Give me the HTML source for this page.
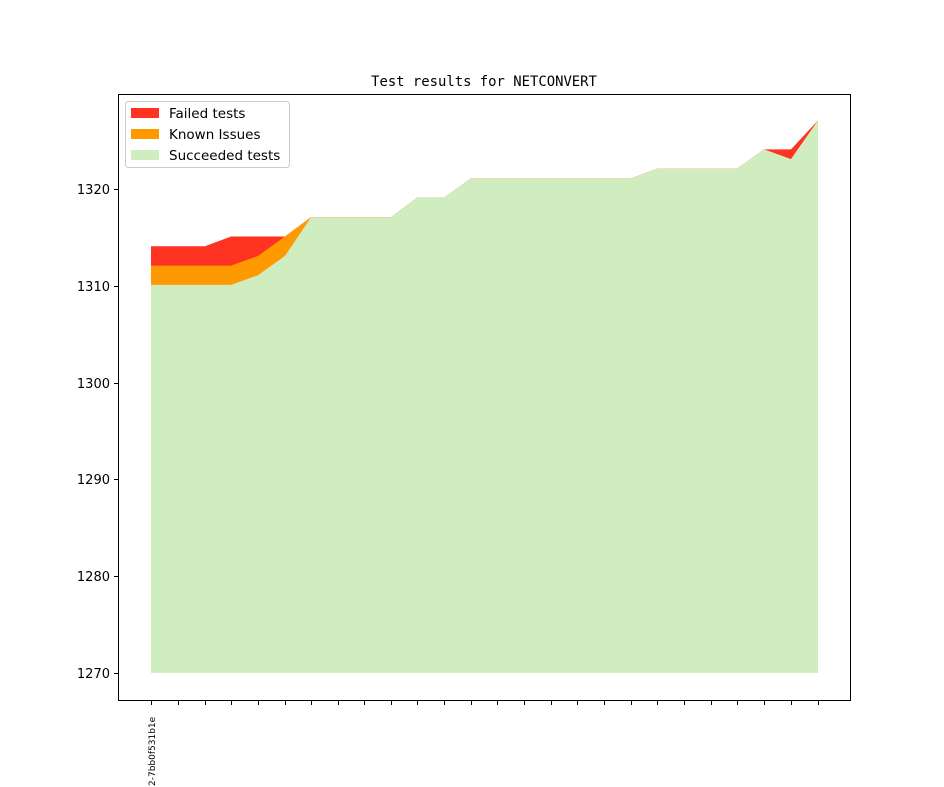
<!DOCTYPE html>
<html><head><meta charset="utf-8"><style>body{margin:0;background:#fff}svg{display:block}</style></head><body>
<svg width="944" height="787" viewBox="0 0 944 787" xmlns="http://www.w3.org/2000/svg" font-family="'DejaVu Sans','Liberation Sans',sans-serif">
<rect width="944" height="787" fill="#fff"/>
<polygon fill="#ff3322" points="151,246.2 178,246.2 205,246.2 231,236.5 258,236.5 285,236.5 311,217.2 338,217.2 364,217.2 391,217.2 417,197.8 444,197.8 471,178.4 497,178.4 524,178.4 551,178.4 577,178.4 604,178.4 631,178.4 657,168.7 684,168.7 711,168.7 737,168.7 764,149.4 791,149.4 818,120.4 818,673 151,673"/>
<polygon fill="#ff9900" points="151,265.6 178,265.6 205,265.6 231,265.6 258,255.9 285,236.5 311,217.2 338,217.2 364,217.2 391,217.2 417,197.8 444,197.8 471,178.4 497,178.4 524,178.4 551,178.4 577,178.4 604,178.4 631,178.4 657,168.7 684,168.7 711,168.7 737,168.7 764,149.4 791,159.1 818,120.4 818,673 151,673"/>
<polygon fill="#cfedbf" points="151,284.9 178,284.9 205,284.9 231,284.9 258,275.2 285,255.9 311,217.2 338,217.2 364,217.2 391,217.2 417,197.8 444,197.8 471,178.4 497,178.4 524,178.4 551,178.4 577,178.4 604,178.4 631,178.4 657,168.7 684,168.7 711,168.7 737,168.7 764,149.4 791,159.1 818,120.4 818,673 151,673"/>
<rect x="118.5" y="94.5" width="732" height="606" fill="none" stroke="#000" stroke-width="1"/>
<g stroke="#000" stroke-width="1">
<line x1="114" y1="189.5" x2="118" y2="189.5"/><line x1="114" y1="286.5" x2="118" y2="286.5"/><line x1="114" y1="383.5" x2="118" y2="383.5"/><line x1="114" y1="479.5" x2="118" y2="479.5"/><line x1="114" y1="576.5" x2="118" y2="576.5"/><line x1="114" y1="673.5" x2="118" y2="673.5"/>
</g>
<g font-size="13" text-anchor="end" fill="#000">
<text x="110" y="194">1320</text><text x="110" y="291">1310</text><text x="110" y="388">1300</text><text x="110" y="484">1290</text><text x="110" y="581">1280</text><text x="110" y="678">1270</text>
</g>
<g stroke="#000" stroke-width="1">
<line x1="151.5" y1="701" x2="151.5" y2="705"/><line x1="178.5" y1="701" x2="178.5" y2="705"/><line x1="205.5" y1="701" x2="205.5" y2="705"/><line x1="231.5" y1="701" x2="231.5" y2="705"/><line x1="258.5" y1="701" x2="258.5" y2="705"/><line x1="285.5" y1="701" x2="285.5" y2="705"/><line x1="311.5" y1="701" x2="311.5" y2="705"/><line x1="338.5" y1="701" x2="338.5" y2="705"/><line x1="364.5" y1="701" x2="364.5" y2="705"/><line x1="391.5" y1="701" x2="391.5" y2="705"/><line x1="417.5" y1="701" x2="417.5" y2="705"/><line x1="444.5" y1="701" x2="444.5" y2="705"/><line x1="471.5" y1="701" x2="471.5" y2="705"/><line x1="497.5" y1="701" x2="497.5" y2="705"/><line x1="524.5" y1="701" x2="524.5" y2="705"/><line x1="551.5" y1="701" x2="551.5" y2="705"/><line x1="577.5" y1="701" x2="577.5" y2="705"/><line x1="604.5" y1="701" x2="604.5" y2="705"/><line x1="631.5" y1="701" x2="631.5" y2="705"/><line x1="657.5" y1="701" x2="657.5" y2="705"/><line x1="684.5" y1="701" x2="684.5" y2="705"/><line x1="711.5" y1="701" x2="711.5" y2="705"/><line x1="737.5" y1="701" x2="737.5" y2="705"/><line x1="764.5" y1="701" x2="764.5" y2="705"/><line x1="791.5" y1="701" x2="791.5" y2="705"/><line x1="818.5" y1="701" x2="818.5" y2="705"/>
</g>
<text transform="translate(155,786) rotate(-90)" font-size="9" fill="#000">2-7bb0f531b1e</text>
<text x="484" y="86" text-anchor="middle" font-size="13.9" font-family="'DejaVu Sans Mono','Liberation Mono',monospace">Test results for NETCONVERT</text>
<rect x="125.5" y="101.5" width="164" height="66" rx="3" fill="#fff" fill-opacity="0.8" stroke="#ccc"/>
<rect x="131" y="108" width="28" height="10" fill="#ff3322"/>
<rect x="131" y="129" width="28" height="10" fill="#ff9900"/>
<rect x="131" y="150" width="28" height="10" fill="#cfedbf"/>
<g font-size="13.5" fill="#000">
<text x="169" y="118">Failed tests</text><text x="169" y="139">Known Issues</text><text x="169" y="160">Succeeded tests</text>
</g>
</svg>
</body></html>
